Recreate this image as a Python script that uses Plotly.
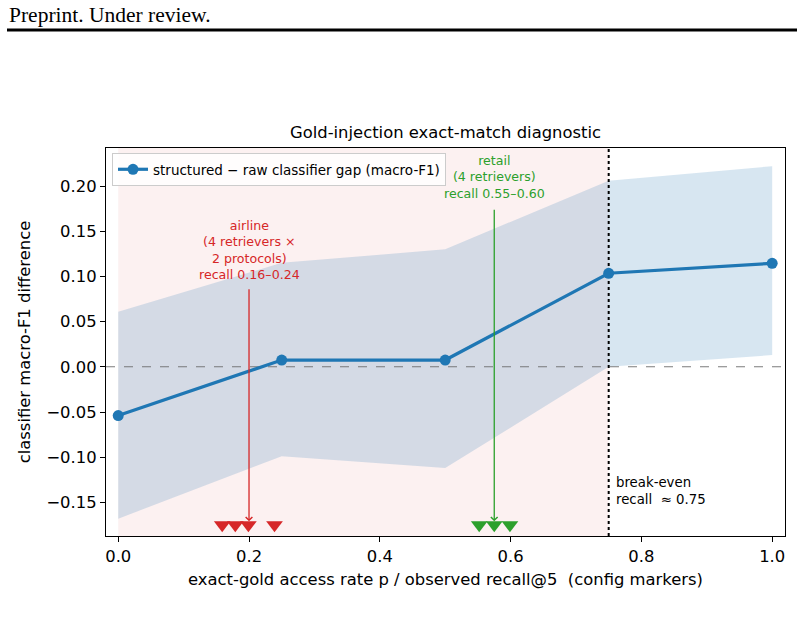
import plotly.graph_objects as go

# ---- data ----
p_rate = [0.0, 0.25, 0.5, 0.75, 1.0]
gap = [-0.054, 0.0075, 0.0075, 0.1035, 0.1145]
gap_hi = [0.061, 0.115, 0.130, 0.206, 0.222]
gap_lo = [-0.168, -0.099, -0.112, 0.0, 0.013]

airline_recall = [0.159, 0.179, 0.199, 0.239]
retail_recall = [0.552, 0.575, 0.599]
marker_row = -0.175  # vertical placement of config markers

break_even = 0.75
zero_level = 0.0

x_ticks = [0.0, 0.2, 0.4, 0.6, 0.8, 1.0]
y_ticks = [-0.15, -0.10, -0.05, 0.0, 0.05, 0.10, 0.15, 0.20]
x_range = [-0.0187, 1.0196]
y_range = [-0.1872, 0.2421]

BLUE = "#1f77b4"
RED = "#d62728"
GREEN = "#2ca02c"
FONT = "DejaVu Sans"

W, H = 804, 629
L, R, T, B = 106, 19, 148, 93
PW, PH = W - L - R, H - T - B


def px_x(px):
    return (px - L) / PW


def px_y(py):
    return (H - B - py) / PH


fig = go.Figure()

# confidence band
fig.add_trace(go.Scatter(
    x=p_rate + p_rate[::-1], y=gap_hi + gap_lo[::-1],
    fill="toself", fillcolor="rgba(31,119,180,0.18)",
    line=dict(width=0), mode="lines", hoverinfo="skip", showlegend=False))

# zero reference line
fig.add_trace(go.Scatter(
    x=x_range, y=[zero_level, zero_level], mode="lines",
    line=dict(color="rgba(110,110,110,0.9)", width=1.1, dash="dash"),
    hoverinfo="skip", showlegend=False))

# break-even line
fig.add_trace(go.Scatter(
    x=[break_even, break_even], y=y_range, mode="lines",
    line=dict(color="black", width=2, dash="dot"),
    hoverinfo="skip", showlegend=False))

# config markers
fig.add_trace(go.Scatter(
    x=airline_recall, y=[marker_row] * len(airline_recall), mode="markers",
    marker=dict(symbol="triangle-down", size=14.5, color=RED, line=dict(width=0)),
    showlegend=False, hoverinfo="skip"))
fig.add_trace(go.Scatter(
    x=retail_recall, y=[marker_row] * len(retail_recall), mode="markers",
    marker=dict(symbol="triangle-down", size=14.5, color=GREEN, line=dict(width=0)),
    showlegend=False, hoverinfo="skip"))

# main line
fig.add_trace(go.Scatter(
    x=p_rate, y=gap, mode="lines+markers",
    name="structured \u2212 raw classifier gap (macro-F1)",
    line=dict(color=BLUE, width=3.2),
    marker=dict(size=11, color=BLUE)))

# shaded region below break-even
fig.add_shape(type="rect", xref="x", yref="paper", x0=0.0, x1=break_even, y0=0, y1=1,
              fillcolor="rgba(214,39,40,0.065)", line=dict(width=0), layer="below")

# header line
fig.add_shape(type="line", xref="paper", yref="paper",
              x0=px_x(7), x1=px_x(797), y0=px_y(30), y1=px_y(30),
              line=dict(color="black", width=3))

annotations = [
    dict(text="Preprint. Under review.", xref="paper", yref="paper",
         x=px_x(7), y=px_y(15), xanchor="left", yanchor="middle", showarrow=False,
         font=dict(family="Liberation Serif", size=21.5, color="black")),
    # airline label + arrow
    dict(text="airline<br>(4 retrievers \u00d7<br>2 protocols)<br>recall 0.16\u20130.24",
         x=0.2, y=0.129, xref="x", yref="y", showarrow=False, align="center",
         xanchor="center", yanchor="middle",
         font=dict(family=FONT, size=12.6, color=RED)),
    dict(text="", x=0.2, y=-0.171, ax=0.2, ay=0.0875, xref="x", yref="y",
         axref="x", ayref="y", showarrow=True, arrowhead=4, arrowsize=1,
         arrowwidth=1.3, arrowcolor=RED, standoff=0),
    # retail label + arrow
    dict(text="retail<br>(4 retrievers)<br>recall 0.55\u20130.60",
         x=0.576, y=0.2095, xref="x", yref="y", showarrow=False, align="center",
         xanchor="center", yanchor="middle",
         font=dict(family=FONT, size=12.6, color=GREEN)),
    dict(text="", x=0.575, y=-0.171, ax=0.575, ay=0.1754, xref="x", yref="y",
         axref="x", ayref="y", showarrow=True, arrowhead=4, arrowsize=1,
         arrowwidth=1.3, arrowcolor=GREEN, standoff=0),
    # break-even note
    dict(text="break-even<br>recall  \u2248 0.75", x=0.758, y=-0.137,
         xref="x", yref="y", showarrow=False, align="left",
         xanchor="left", yanchor="middle",
         font=dict(family=FONT, size=13.3, color="black")),
]

fig.update_layout(
    width=W, height=H, autosize=False,
    margin=dict(l=L, r=R, t=T, b=B),
    paper_bgcolor="white", plot_bgcolor="white",
    font=dict(family=FONT, size=16.4, color="black"),
    title=dict(text="Gold-injection exact-match diagnostic",
               x=0.5, xref="paper", xanchor="center",
               y=1 - 132 / H, yref="container", yanchor="middle",
               font=dict(family=FONT, size=16.4, color="black")),
    annotations=annotations,
    legend=dict(x=px_x(112), y=px_y(153), xanchor="left", yanchor="top",
                bgcolor="rgba(255,255,255,0.85)", bordercolor="#cccccc",
                borderwidth=1, font=dict(family=FONT, size=13.5, color="black")),
    showlegend=True,
)

fig.update_xaxes(range=x_range, tickvals=x_ticks, tickformat=".1f",
                 showline=True, mirror=True, linecolor="black", linewidth=1.2,
                 ticks="outside", ticklen=5, tickwidth=1.2, tickcolor="black",
                 showgrid=False, zeroline=False,
                 tickfont=dict(family=FONT, size=16.4, color="black"),
                 title=dict(text="exact-gold access rate p / observed recall@5  (config markers)",
                            font=dict(family=FONT, size=16.4, color="black"), standoff=8))
fig.update_yaxes(range=y_range, tickvals=y_ticks, tickformat=".2f",
                 showline=True, mirror=True, linecolor="black", linewidth=1.2,
                 ticks="outside", ticklen=5, tickwidth=1.2, tickcolor="black",
                 showgrid=False, zeroline=False,
                 tickfont=dict(family=FONT, size=16.4, color="black"),
                 title=dict(text="classifier macro-F1 difference",
                            font=dict(family=FONT, size=16.4, color="black"), standoff=11))

fig.write_html("out.html")
